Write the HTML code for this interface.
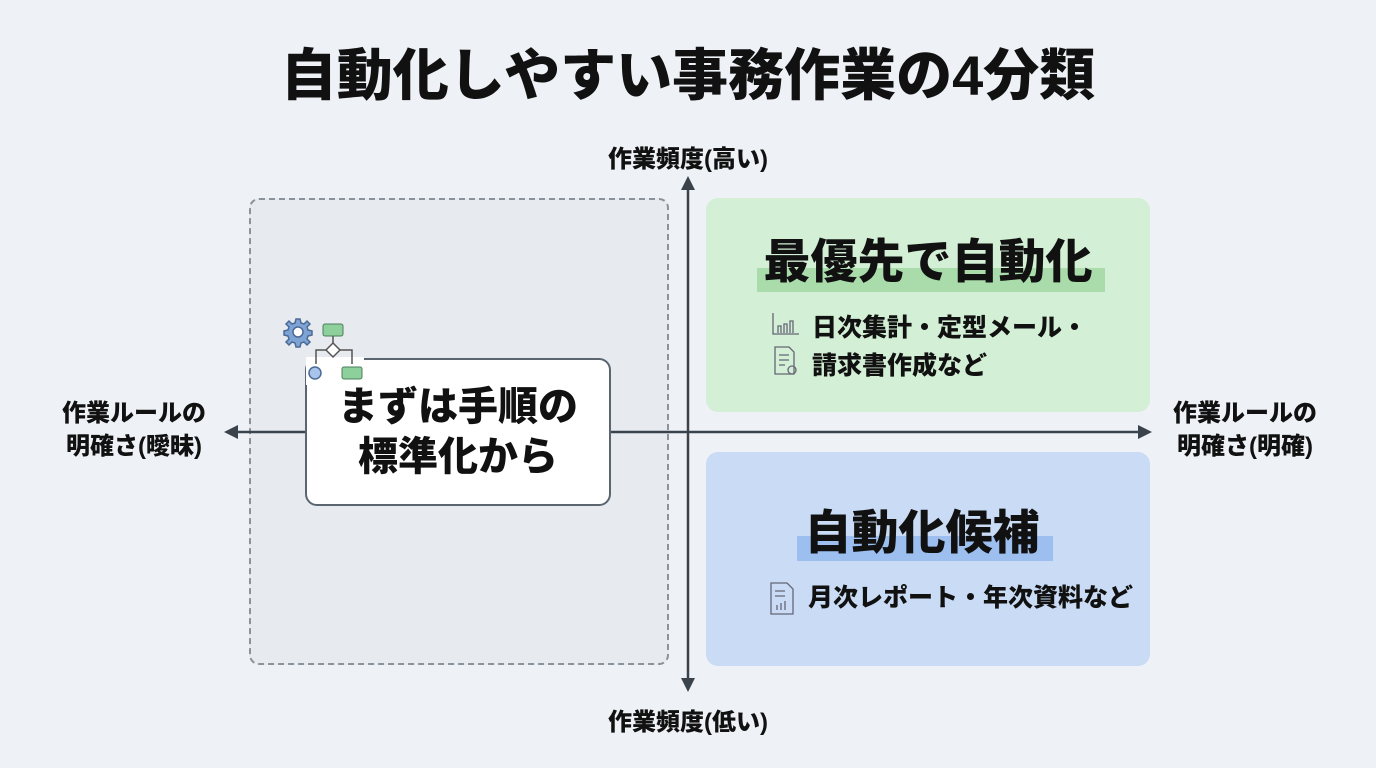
<!DOCTYPE html>
<html><head><meta charset="utf-8"><style>
body{margin:0;width:1376px;height:768px;background:#eef2f7;position:relative;overflow:hidden;font-family:"Liberation Sans","Noto Sans CJK JP",sans-serif;color:#111}
.a{position:absolute}
.t{font-weight:900}
</style></head><body>
<div class="a t" style="left:0;width:1376px;top:41px;text-align:center;font-size:56px;line-height:70px">自動化しやすい事務作業の4分類</div>
<div class="a t" style="left:538px;width:300px;top:139px;text-align:center;font-size:24px">作業頻度(高い)</div>
<div class="a t" style="left:538px;width:300px;top:702px;text-align:center;font-size:24px">作業頻度(低い)</div>
<div class="a t" style="left:0px;width:268px;top:397px;text-align:center;font-size:24px;line-height:33px">作業ルールの<br>明確さ(曖昧)</div>
<div class="a t" style="left:1110px;width:270px;top:397px;text-align:center;font-size:24px;line-height:33px">作業ルールの<br>明確さ(明確)</div>
<div class="a" style="left:249px;top:198px;width:416px;height:463px;border:2px dashed #8a929c;border-radius:10px;background:#e7ebf0"></div>
<div class="a" style="left:706px;top:198px;width:444px;height:214px;border-radius:12px;background:#d3efd5"></div>
<div class="a" style="left:706px;top:452px;width:444px;height:214px;border-radius:12px;background:#c9dbf5"></div>
<svg class="a" style="left:0;top:0" width="1376" height="768">
<g stroke="#3a424c" stroke-width="2.5" fill="#3a424c">
<line x1="688" y1="188" x2="688" y2="680"/>
<polygon points="688,176 681,190 695,190" stroke="none"/>
<polygon points="688,692 681,678 695,678" stroke="none"/>
<line x1="236" y1="432" x2="1140" y2="432"/>
<polygon points="1152,432 1138,425 1138,439" stroke="none"/>
<polygon points="224,432 238,425 238,439" stroke="none"/>
</g>
<rect x="757" y="268" width="348" height="24" fill="#a9dcaa"/>
<rect x="797" y="536" width="256" height="25" fill="#9dbff0"/>
<g fill="none" stroke="#667" stroke-width="1.3">
<path d="M773 313v21h26M778 333v-7h3v7M784 333v-9h3v9M790 333v-12h3v12"/>
<path d="M775 347h14l5 5v22h-19z M779 355h10M779 360h10M779 365h6"/><circle cx="792" cy="370" r="4"/>
<path d="M771 583h16l6 6v25h-22z M775 591h10M775 596h10M777 610v-5M781 610v-7M785 610v-9"/>
</g>
</svg>
<div class="a" style="left:305px;top:358px;width:302px;height:144px;border:2px solid #5a6570;border-radius:12px;background:#fff"></div>
<svg class="a" style="left:0;top:0" width="700" height="400">
<rect x="306" y="357" width="58" height="28" fill="#fff"/>
<g transform="translate(298,332)" fill="#7ea4d6" stroke="#4b6a95" stroke-width="1.5">
<path d="M-2-13h4l1 4 3 1 3-3 3 3-3 3 1 3 4 1v4l-4 1-1 3 3 3-3 3-3-3-3 1-1 4h-4l-1-4-3-1-3 3-3-3 3-3-1-3-4-1v-4l4-1 1-3-3-3 3-3 3 3 3-1z"/>
<circle r="5" fill="#fff"/></g>
<rect x="323" y="324" width="20" height="12" rx="2" fill="#8ed09c" stroke="#4e7d5a"/>
<path d="M333 336v8M316 364v-14h10M340 350h12v14" stroke="#555" fill="none" stroke-width="1.5"/>
<polygon points="333,343 340,350 333,357 326,350" fill="#fff" stroke="#555" stroke-width="1.5"/>
<circle cx="315" cy="373" r="6" fill="#a8c4ea" stroke="#4b6a95" stroke-width="1.5"/>
<rect x="342" y="367" width="20" height="12" rx="2" fill="#8ed09c" stroke="#4e7d5a"/>
</svg>
<div class="a t" style="left:305px;top:382px;width:306px;text-align:center;font-size:40px;line-height:50px">まずは手順の<br>標準化から</div>
<div class="a t" style="left:706px;top:232px;width:444px;text-align:center;font-size:47px;line-height:60px">最優先で自動化</div>
<div class="a t" style="left:812px;top:309px;font-size:25px;line-height:38px">日次集計・定型メール・<br>請求書作成など</div>
<div class="a t" style="left:700px;top:503px;width:444px;text-align:center;font-size:47px;line-height:60px">自動化候補</div>
<div class="a t" style="left:808px;top:579px;font-size:25px;line-height:38px">月次レポート・年次資料など</div>
</body></html>
